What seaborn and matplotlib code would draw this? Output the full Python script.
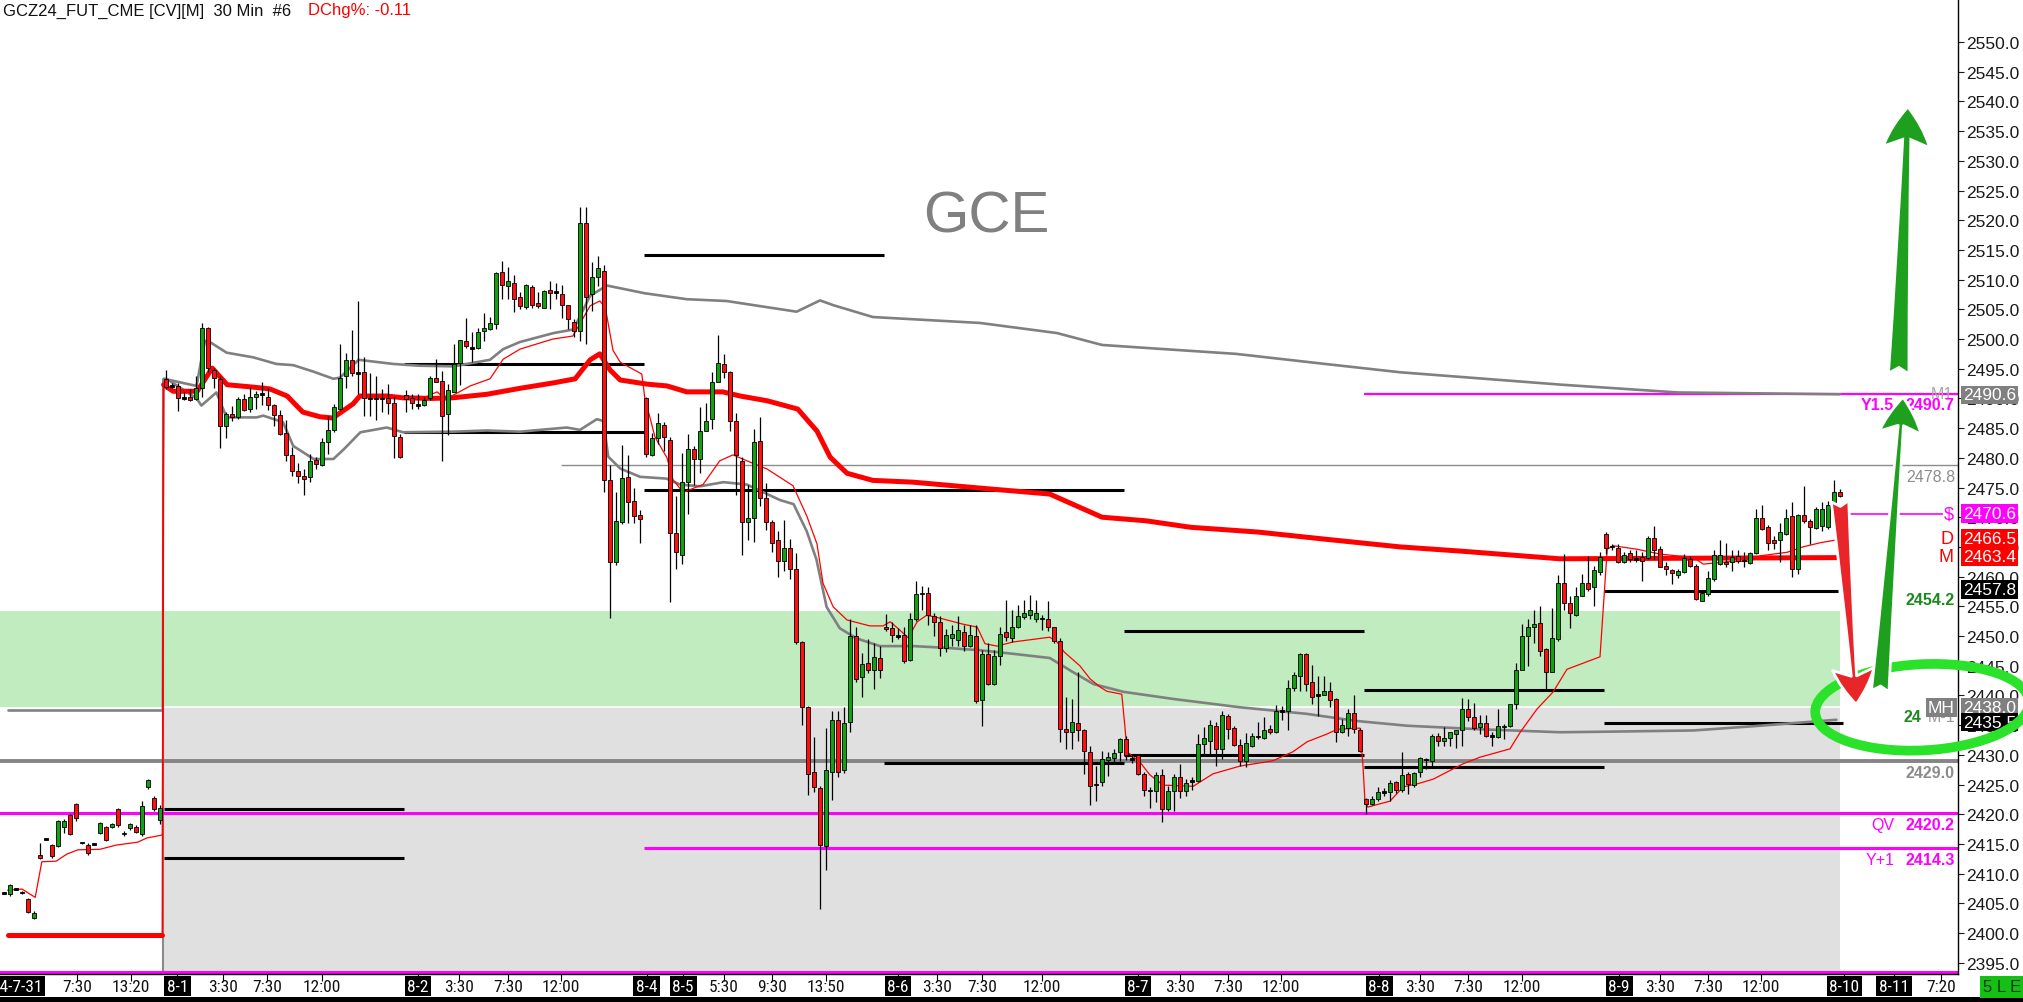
import numpy as np
import pandas as pd
import matplotlib
matplotlib.use("Agg")
import matplotlib.pyplot as plt
import seaborn as sns
from matplotlib import font_manager
from matplotlib.patches import Ellipse, Rectangle, ArrowStyle
from matplotlib.ticker import FormatStrFormatter
from matplotlib.transforms import blended_transform_factory

sns.set_style('white')
plt.rcParams['font.family'] = ['Liberation Sans', 'DejaVu Sans']

# ---- 30 min candles per session: (open, high, low, close) ----
jul31 = [(2406.7, 2406.9, 2406.5, 2406.7), (2406.5, 2408.3, 2406.3, 2408.1), (2407.4, 2407.6, 2407.2, 2407.4),
         (2406.8, 2407.0, 2406.6, 2406.8), (2405.7, 2405.9, 2403.3, 2403.5), (2402.6, 2403.7, 2402.4, 2403.3),
         (2413.1, 2415.2, 2412.4, 2412.6), (2415.8, 2416.0, 2415.6, 2415.8), (2414.8, 2415.0, 2412.7, 2412.9),
         (2414.6, 2419.0, 2414.4, 2418.8), (2417.8, 2419.2, 2416.9, 2418.8), (2419.8, 2420.0, 2416.5, 2416.7),
         (2421.7, 2421.9, 2418.9, 2419.3), (2415.2, 2415.4, 2415.0, 2415.2), (2414.9, 2415.1, 2413.2, 2413.4),
         (2415.0, 2415.2, 2414.8, 2415.0), (2416.8, 2418.7, 2416.6, 2418.5), (2417.8, 2418.0, 2415.5, 2415.7),
         (2417.9, 2418.6, 2417.7, 2418.4), (2420.9, 2421.1, 2417.9, 2418.1), (2416.6, 2417.1, 2416.4, 2416.9),
         (2417.6, 2418.6, 2417.4, 2418.4), (2417.9, 2418.1, 2416.8, 2417.0), (2416.6, 2422.3, 2416.4, 2421.4),
         (2424.5, 2426.0, 2424.3, 2425.8), (2422.8, 2423.0, 2420.6, 2420.8), (2419.0, 2421.6, 2418.3, 2421.0)]
aug01 = [(2493.2, 2494.8, 2491.5, 2492.0), (2492.1, 2492.6, 2491.7, 2492.1), (2492.1, 2492.6, 2487.9, 2490.0),
         (2490.1, 2491.0, 2489.8, 2490.1), (2490.3, 2491.6, 2489.6, 2489.7), (2489.9, 2493.8, 2489.8, 2491.8),
         (2491.7, 2502.7, 2490.3, 2501.8), (2501.8, 2502.1, 2494.4, 2495.1), (2494.8, 2495.2, 2491.8, 2493.4),
         (2493.3, 2493.8, 2481.6, 2485.3), (2485.3, 2487.7, 2483.4, 2487.4), (2487.4, 2488.8, 2486.2, 2486.8),
         (2486.8, 2490.3, 2486.5, 2489.9), (2489.9, 2490.7, 2487.9, 2488.1), (2488.2, 2491.9, 2487.7, 2490.2),
         (2490.2, 2491.3, 2488.2, 2490.7), (2490.7, 2492.7, 2488.9, 2490.7), (2490.3, 2491.7, 2488.1, 2488.9),
         (2488.9, 2489.0, 2485.4, 2487.2), (2487.2, 2488.1, 2483.8, 2484.0), (2484.2, 2486.4, 2479.4, 2480.4),
         (2480.5, 2481.8, 2477.0, 2477.8), (2477.7, 2479.2, 2475.7, 2476.9), (2476.9, 2478.2, 2473.8, 2476.5),
         (2476.7, 2480.6, 2475.9, 2479.5), (2479.6, 2480.2, 2478.1, 2478.9), (2478.8, 2483.3, 2478.7, 2482.6),
         (2482.6, 2487.1, 2480.6, 2484.7), (2484.7, 2489.1, 2484.4, 2488.5), (2488.3, 2499.1, 2488.1, 2493.4),
         (2493.7, 2497.6, 2491.8, 2496.5), (2496.4, 2501.6, 2493.8, 2494.3), (2494.3, 2506.4, 2490.7, 2494.3),
         (2494.4, 2496.9, 2487.1, 2490.0), (2490.0, 2494.3, 2487.1, 2490.0), (2490.0, 2493.7, 2486.3, 2490.0),
         (2490.0, 2491.6, 2487.7, 2490.0), (2490.0, 2492.4, 2487.4, 2489.3), (2489.3, 2490.3, 2480.0, 2483.6),
         (2483.5, 2484.0, 2480.0, 2480.1)]
aug02 = [(2490.5, 2491.4, 2487.7, 2489.9), (2490.0, 2490.7, 2488.2, 2489.3), (2488.9, 2490.7, 2488.2, 2488.9),
         (2488.9, 2490.3, 2488.7, 2489.8), (2490.0, 2493.8, 2489.7, 2493.4), (2493.4, 2496.6, 2492.7, 2492.8),
         (2493.0, 2494.6, 2479.4, 2487.0), (2487.3, 2492.5, 2483.8, 2491.4), (2491.1, 2499.1, 2491.0, 2495.8),
         (2496.0, 2499.9, 2492.3, 2499.8), (2499.6, 2503.5, 2498.5, 2498.8), (2498.5, 2501.1, 2496.1, 2498.5),
         (2498.5, 2501.8, 2498.3, 2501.2), (2501.3, 2504.4, 2499.7, 2501.8), (2501.7, 2503.7, 2501.6, 2502.7),
         (2502.5, 2511.3, 2501.7, 2511.1), (2511.2, 2513.1, 2506.7, 2509.1), (2509.0, 2512.1, 2506.7, 2509.7),
         (2509.5, 2510.8, 2504.5, 2506.8), (2507.1, 2507.9, 2505.0, 2505.5), (2505.4, 2509.3, 2505.0, 2509.1),
         (2508.8, 2509.1, 2505.3, 2505.8), (2506.1, 2507.9, 2505.3, 2505.5), (2505.3, 2508.2, 2505.2, 2508.1),
         (2508.2, 2509.8, 2505.0, 2507.7), (2507.9, 2509.4, 2506.7, 2507.9), (2507.6, 2509.1, 2503.5, 2505.7),
         (2505.7, 2505.8, 2501.7, 2503.3), (2502.9, 2503.3, 2500.3, 2501.3), (2501.3, 2522.3, 2499.7, 2519.5),
         (2519.6, 2522.3, 2499.2, 2507.1), (2507.5, 2513.0, 2504.7, 2510.5), (2510.5, 2514.0, 2509.0, 2512.0),
         (2511.5, 2512.5, 2474.2, 2476.2), (2476.2, 2478.8, 2453.1, 2462.4), (2462.4, 2474.2, 2461.9, 2469.4),
         (2469.2, 2482.2, 2468.9, 2476.6), (2476.8, 2480.5, 2469.0, 2472.5), (2472.7, 2474.9, 2469.0, 2470.2),
         (2470.3, 2471.2, 2465.6, 2469.7)]
aug05 = [(2490.1, 2490.3, 2480.2, 2480.6), (2480.5, 2484.2, 2480.3, 2483.4), (2483.4, 2487.5, 2482.3, 2485.8),
         (2485.6, 2486.0, 2481.2, 2483.5), (2483.0, 2483.5, 2455.7, 2467.4), (2467.4, 2473.5, 2461.2, 2464.2),
         (2463.6, 2480.8, 2462.2, 2476.0), (2476.0, 2484.0, 2470.5, 2481.4), (2481.5, 2482.0, 2475.5, 2479.8),
         (2479.8, 2488.5, 2477.5, 2484.5), (2484.5, 2489.3, 2484.5, 2486.2), (2486.5, 2494.4, 2484.8, 2492.7),
         (2492.8, 2500.6, 2492.7, 2496.0), (2495.8, 2497.4, 2493.5, 2494.4), (2494.4, 2494.6, 2484.5, 2486.2),
         (2486.2, 2487.5, 2473.7, 2480.5), (2479.5, 2480.2, 2463.7, 2469.2), (2469.2, 2475.5, 2466.2, 2469.9),
         (2469.9, 2484.8, 2465.9, 2482.7), (2482.8, 2486.8, 2471.9, 2473.2), (2473.2, 2475.7, 2467.9, 2469.2),
         (2469.2, 2469.5, 2464.2, 2465.7), (2466.1, 2467.7, 2459.9, 2462.6), (2462.6, 2469.5, 2460.9, 2464.8),
         (2464.8, 2466.4, 2459.6, 2461.2), (2461.2, 2463.9, 2448.6, 2449.0), (2449.0, 2449.2, 2435.0, 2438.0),
         (2438.0, 2438.3, 2423.2, 2426.7), (2427.1, 2433.0, 2423.7, 2424.5), (2424.4, 2424.7, 2404.1, 2414.8),
         (2414.6, 2434.5, 2410.6, 2427.4), (2427.1, 2437.3, 2422.4, 2435.8), (2435.8, 2437.3, 2426.3, 2427.1),
         (2427.4, 2438.0, 2426.9, 2435.3), (2435.5, 2452.8, 2433.8, 2450.0), (2450.0, 2451.6, 2442.3, 2442.7),
         (2443.1, 2447.1, 2439.7, 2445.3), (2445.5, 2449.5, 2443.8, 2444.2), (2444.2, 2448.8, 2441.1, 2446.4),
         (2446.3, 2448.3, 2443.0, 2444.2)]
aug06 = [(2451.6, 2453.7, 2450.9, 2451.2), (2451.4, 2452.3, 2449.0, 2450.1), (2450.0, 2451.3, 2449.5, 2450.0),
         (2450.2, 2451.6, 2445.5, 2445.8), (2446.0, 2453.9, 2445.8, 2452.8), (2452.8, 2459.3, 2452.6, 2457.1),
         (2457.1, 2458.5, 2454.3, 2457.3), (2457.3, 2458.3, 2451.9, 2453.5), (2453.3, 2453.9, 2450.0, 2452.4),
         (2452.4, 2453.3, 2446.6, 2448.0), (2448.0, 2451.1, 2447.3, 2450.2), (2449.6, 2451.8, 2448.3, 2450.4),
         (2449.3, 2453.3, 2448.3, 2451.0), (2450.6, 2451.8, 2447.5, 2448.4), (2448.4, 2451.9, 2448.2, 2450.2),
         (2450.0, 2451.8, 2438.7, 2439.0), (2439.3, 2447.6, 2434.9, 2447.0), (2447.0, 2448.8, 2441.8, 2442.0),
         (2442.0, 2447.6, 2441.8, 2446.6), (2446.6, 2451.5, 2445.1, 2450.4), (2450.6, 2456.1, 2449.1, 2449.8),
         (2449.6, 2454.4, 2449.0, 2451.5), (2451.5, 2455.3, 2451.3, 2453.3), (2453.2, 2456.1, 2452.9, 2453.9),
         (2453.6, 2456.9, 2452.9, 2454.3), (2452.9, 2456.1, 2452.3, 2453.9), (2452.9, 2453.6, 2451.0, 2452.9),
         (2452.9, 2455.9, 2450.9, 2451.6), (2451.5, 2451.6, 2448.9, 2449.2), (2449.2, 2449.6, 2432.1, 2434.3),
         (2434.3, 2439.7, 2430.9, 2433.8), (2433.9, 2439.4, 2430.9, 2435.6), (2435.4, 2443.9, 2432.4, 2434.1),
         (2434.2, 2434.3, 2426.8, 2430.6), (2430.4, 2431.4, 2421.6, 2424.7), (2425.0, 2428.2, 2422.3, 2425.0),
         (2425.4, 2430.6, 2424.7, 2429.3), (2429.2, 2430.4, 2426.4, 2429.7), (2429.5, 2431.0, 2428.7, 2430.3),
         (2430.4, 2432.9, 2429.0, 2432.7)]
aug07 = [(2432.6, 2433.1, 2429.2, 2429.9), (2429.3, 2430.1, 2428.7, 2429.3), (2429.9, 2430.0, 2426.6, 2426.7),
         (2426.7, 2427.1, 2423.1, 2424.0), (2424.0, 2424.5, 2421.0, 2424.0), (2423.9, 2427.1, 2422.0, 2426.6),
         (2426.6, 2427.6, 2418.7, 2420.8), (2420.8, 2424.8, 2420.6, 2423.9), (2423.9, 2426.8, 2420.6, 2426.2),
         (2426.2, 2428.5, 2422.8, 2423.9), (2423.9, 2426.0, 2423.1, 2425.3), (2425.6, 2426.3, 2424.1, 2425.6),
         (2425.6, 2433.5, 2425.4, 2431.8), (2431.8, 2434.7, 2430.1, 2432.8), (2432.4, 2435.8, 2430.1, 2435.0),
         (2434.8, 2435.6, 2428.2, 2431.0), (2431.0, 2437.3, 2429.3, 2436.7), (2436.6, 2436.9, 2432.7, 2434.3),
         (2434.5, 2434.8, 2431.4, 2431.7), (2431.7, 2432.7, 2428.2, 2429.0), (2429.0, 2433.6, 2427.9, 2432.0),
         (2431.5, 2433.6, 2431.3, 2433.1), (2433.1, 2435.6, 2432.7, 2433.1), (2432.8, 2436.4, 2432.7, 2434.2),
         (2434.3, 2435.0, 2433.5, 2433.9), (2433.8, 2438.4, 2433.7, 2437.3), (2437.4, 2438.3, 2435.8, 2437.4),
         (2437.4, 2442.6, 2434.1, 2441.2), (2441.2, 2444.0, 2440.8, 2443.4), (2443.3, 2447.1, 2440.8, 2447.0),
         (2447.0, 2447.1, 2440.8, 2441.9), (2442.2, 2445.1, 2438.6, 2439.8), (2440.1, 2443.3, 2436.6, 2440.1),
         (2440.1, 2443.3, 2440.0, 2440.8), (2440.8, 2442.2, 2438.0, 2439.3), (2439.4, 2439.5, 2432.1, 2433.9),
         (2433.9, 2436.0, 2433.7, 2435.1), (2434.5, 2437.7, 2433.2, 2437.0), (2437.0, 2440.0, 2433.7, 2434.3),
         (2434.2, 2434.5, 2430.4, 2430.7)]
aug08 = [(2422.6, 2422.8, 2420.0, 2421.7), (2421.7, 2423.1, 2421.6, 2422.6), (2422.5, 2424.5, 2422.3, 2423.8),
         (2423.7, 2424.4, 2423.0, 2423.7), (2423.7, 2425.8, 2422.3, 2425.3), (2425.4, 2425.6, 2423.6, 2424.0),
         (2424.0, 2430.4, 2423.8, 2426.6), (2426.8, 2427.1, 2423.4, 2425.1), (2425.0, 2427.1, 2424.5, 2426.9),
         (2427.1, 2429.6, 2426.2, 2429.4), (2429.2, 2429.4, 2427.6, 2429.2), (2429.0, 2433.5, 2427.7, 2433.2),
         (2433.1, 2433.6, 2431.5, 2432.4), (2432.3, 2434.6, 2431.4, 2432.9), (2432.9, 2433.9, 2431.4, 2433.8),
         (2433.5, 2434.2, 2431.1, 2434.1), (2434.1, 2439.5, 2431.5, 2437.7), (2437.7, 2439.4, 2435.7, 2436.3),
         (2436.3, 2438.8, 2434.1, 2434.5), (2434.6, 2436.7, 2433.5, 2435.4), (2435.4, 2436.7, 2433.0, 2433.1),
         (2433.2, 2433.8, 2431.5, 2433.2), (2433.0, 2437.7, 2432.8, 2434.8), (2434.6, 2435.2, 2432.7, 2434.9),
         (2434.8, 2438.6, 2434.6, 2438.6), (2438.6, 2445.5, 2437.7, 2444.3), (2444.3, 2452.0, 2444.2, 2450.0),
         (2450.0, 2452.9, 2445.0, 2451.5), (2451.5, 2454.3, 2448.9, 2452.0), (2452.2, 2455.1, 2446.6, 2447.5),
         (2447.8, 2447.9, 2441.1, 2444.0), (2444.0, 2454.7, 2443.9, 2449.6), (2449.5, 2460.3, 2449.2, 2459.0),
         (2459.0, 2463.8, 2454.4, 2455.5), (2455.5, 2456.8, 2451.3, 2453.9), (2453.5, 2458.2, 2453.4, 2456.7),
         (2456.8, 2460.4, 2456.7, 2459.0), (2459.0, 2463.4, 2457.5, 2457.9), (2458.2, 2461.8, 2455.1, 2461.1),
         (2460.8, 2464.1, 2460.3, 2463.3)]
aug09 = [(2467.2, 2467.5, 2463.8, 2464.9), (2465.1, 2465.5, 2464.4, 2465.1), (2464.9, 2465.5, 2462.3, 2462.5),
         (2462.5, 2464.1, 2462.3, 2463.6), (2463.9, 2464.4, 2462.5, 2463.0), (2463.0, 2464.4, 2462.5, 2463.0),
         (2463.3, 2464.1, 2459.3, 2462.7), (2463.1, 2466.9, 2462.9, 2466.5), (2466.5, 2468.5, 2463.0, 2464.4),
         (2464.7, 2465.2, 2461.6, 2461.7), (2461.8, 2462.4, 2460.2, 2461.2), (2461.1, 2461.3, 2458.8, 2460.6),
         (2460.2, 2461.2, 2459.7, 2461.0), (2460.7, 2463.8, 2460.6, 2463.1), (2463.0, 2463.4, 2461.7, 2461.8),
         (2461.8, 2462.1, 2456.1, 2456.3), (2455.9, 2457.5, 2455.9, 2457.2), (2457.0, 2461.0, 2456.8, 2459.7),
         (2459.6, 2464.4, 2459.3, 2463.6), (2462.1, 2466.1, 2461.9, 2463.6), (2462.5, 2465.7, 2461.6, 2462.1),
         (2462.4, 2464.4, 2461.0, 2463.3), (2463.4, 2464.4, 2462.3, 2462.7), (2462.7, 2464.2, 2461.7, 2462.7),
         (2462.3, 2464.1, 2462.1, 2464.0), (2464.0, 2471.3, 2463.8, 2469.8), (2469.8, 2472.1, 2467.9, 2468.0),
         (2468.3, 2468.7, 2464.5, 2465.7), (2466.2, 2466.9, 2464.7, 2465.6), (2466.2, 2469.1, 2462.5, 2467.5),
         (2467.2, 2471.4, 2467.0, 2469.9), (2470.2, 2472.6, 2459.9, 2461.3), (2461.2, 2470.5, 2460.4, 2470.4),
         (2470.3, 2475.2, 2469.1, 2469.4), (2469.3, 2469.7, 2465.5, 2468.3), (2468.1, 2471.7, 2468.0, 2471.3),
         (2468.5, 2472.6, 2467.7, 2471.3), (2468.3, 2472.8, 2468.0, 2472.0), (2472.1, 2476.3, 2470.9, 2474.2),
         (2474.2, 2474.8, 2473.4, 2473.6)]
sessions = [jul31, aug01, aug02, aug05, aug06, aug07, aug08, aug09]

# ---- indicator lines, (bar index, price) ----
week_vwap = [(0.6, 2399.6), (26.4, 2399.6), (26.6, 2492.3), (28.2, 2491.2), (32.2, 2491.2), (34.7, 2495.1),
             (37.2, 2492.3), (41.5, 2491.9), (44.3, 2491.6), (47.2, 2490.4), (49.8, 2487.7), (52.7, 2486.9),
             (54.8, 2486.7), (58.2, 2489.1), (59.3, 2490.4), (63.8, 2490.4), (66.5, 2490.1), (71.5, 2490.0),
             (74.8, 2490.1), (80.5, 2490.7), (86.0, 2491.7), (91.5, 2492.6), (95.2, 2493.3), (97.7, 2496.5),
             (99.3, 2497.5), (101.0, 2494.8), (102.7, 2493.1), (107.2, 2492.4), (110.5, 2492.1), (113.8, 2491.1),
             (119.8, 2491.1), (122.7, 2490.4), (127.2, 2489.6), (132.3, 2488.2), (135.5, 2484.5), (137.7, 2480.1),
             (140.5, 2477.4), (144.8, 2476.2), (151.5, 2475.9), (162.7, 2474.9), (174.3, 2473.9), (183.0, 2470.0),
             (190.3, 2469.4), (197.8, 2468.3), (209.0, 2467.5), (220.2, 2466.3), (232.7, 2465.0), (242.7, 2464.3),
             (259.3, 2463.0), (305.8, 2463.2)]
day_vwap = [(0.6, 2407.2), (3.0, 2407.4), (5.2, 2406.0), (6.3, 2412.0), (8.7, 2412.1), (10.5, 2413.3),
            (12.3, 2414.0), (16.0, 2414.1), (18.7, 2414.8), (22.3, 2415.3), (23.8, 2416.0), (26.4, 2416.5),
            (26.6, 2492.3), (28.2, 2491.2), (32.2, 2491.2), (34.7, 2495.1), (37.2, 2492.3), (41.5, 2491.9),
            (44.3, 2491.6), (47.2, 2490.4), (49.8, 2487.7), (52.7, 2486.9), (54.8, 2486.7), (58.2, 2489.1),
            (59.3, 2490.4), (63.8, 2490.4), (66.5, 2490.1), (67.5, 2490.3), (69.5, 2489.8), (71.0, 2490.6),
            (72.2, 2491.1), (73.5, 2489.9), (74.8, 2490.5), (77.7, 2492.1), (81.0, 2493.3), (83.2, 2496.6),
            (86.0, 2498.3), (91.5, 2500.0), (94.8, 2500.5), (97.7, 2505.6), (99.3, 2506.4), (100.2, 2505.4),
            (101.5, 2498.1), (102.7, 2496.1), (106.3, 2494.1), (106.8, 2490.1), (108.5, 2483.5), (110.5, 2480.0),
            (111.5, 2476.3), (113.2, 2474.2), (116.5, 2475.5), (119.3, 2479.5), (121.5, 2480.5), (123.8, 2479.5),
            (127.2, 2478.1), (131.5, 2475.3), (133.8, 2470.2), (135.5, 2465.5), (136.5, 2458.9), (138.2, 2454.9),
            (140.5, 2452.7), (144.3, 2451.7), (146.5, 2451.7), (147.7, 2452.4), (149.3, 2451.0), (150.7, 2449.7),
            (152.2, 2452.4), (153.8, 2453.5), (156.0, 2453.0), (159.8, 2452.0), (162.2, 2451.5), (163.5, 2448.7),
            (165.5, 2448.3), (168.2, 2449.0), (174.3, 2449.8), (175.5, 2449.0), (176.7, 2447.3), (179.3, 2445.0),
            (181.0, 2442.8), (182.7, 2441.4), (183.8, 2440.7), (186.3, 2440.2), (186.8, 2434.9), (187.2, 2430.5),
            (189.3, 2428.8), (191.0, 2426.6), (193.2, 2424.9), (198.2, 2424.7), (201.5, 2426.8), (206.0, 2428.1),
            (211.5, 2429.0), (214.8, 2430.5), (217.2, 2432.2), (220.5, 2433.5), (222.2, 2434.3), (226.0, 2434.5),
            (226.5, 2428.1), (226.8, 2422.6), (227.3, 2421.2), (231.0, 2422.2), (233.2, 2424.6), (235.5, 2425.1),
            (238.2, 2425.9), (240.5, 2427.1), (243.2, 2428.5), (246.0, 2429.6), (251.0, 2431.0), (252.7, 2433.8),
            (255.5, 2437.7), (258.2, 2440.6), (260.5, 2444.4), (266.0, 2446.5), (266.5, 2454.0), (267.2, 2464.6),
            (268.2, 2465.2), (272.2, 2464.6), (276.0, 2463.8), (278.8, 2463.5), (281.5, 2463.3), (283.2, 2462.1),
            (287.2, 2462.5), (291.0, 2462.6), (292.7, 2463.5), (297.2, 2464.1), (299.8, 2465.0), (302.7, 2465.7),
            (305.5, 2466.2)]
upper_band = [(27.1, 2493.2), (32.1, 2492.1), (32.9, 2496.6), (33.5, 2499.7), (34.3, 2499.5), (37.1, 2497.7),
              (41.6, 2496.9), (45.4, 2495.8), (48.2, 2495.6), (51.6, 2494.5), (54.9, 2493.3), (56.0, 2493.5),
              (59.1, 2496.5), (64.9, 2495.8), (69.3, 2495.5), (74.9, 2495.4), (81.0, 2496.5), (83.2, 2498.3),
              (86.0, 2499.5), (91.6, 2501.0), (94.9, 2501.6), (97.7, 2507.3), (100.5, 2509.0), (106.8, 2507.7),
              (113.8, 2506.7), (120.4, 2506.4), (132.1, 2504.6), (136.0, 2506.5), (138.2, 2505.7), (144.8, 2503.7),
              (162.7, 2502.7), (175.5, 2501.0), (183.0, 2499.0), (190.3, 2498.5), (205.3, 2497.5), (220.2, 2495.8),
              (232.7, 2494.4), (259.7, 2492.3), (279.0, 2491.0), (306.0, 2490.7)]
mid_band = [(0.6, 2437.6), (26.4, 2437.6), (26.6, 2493.3), (27.1, 2493.3), (32.1, 2490.0), (32.9, 2488.8),
            (35.4, 2491.0), (37.1, 2486.8), (42.1, 2486.8), (43.2, 2487.1), (46.5, 2486.0), (48.2, 2482.0),
            (51.6, 2479.8), (54.9, 2479.8), (56.7, 2481.5), (59.4, 2484.3), (63.8, 2485.1), (66.5, 2484.3),
            (74.9, 2484.4), (80.5, 2484.6), (86.0, 2484.4), (93.8, 2485.1), (96.0, 2484.7), (98.8, 2486.5),
            (99.9, 2486.2), (100.7, 2480.2), (102.7, 2478.2), (106.0, 2476.8), (110.4, 2476.5), (112.7, 2475.5),
            (116.0, 2475.2), (119.9, 2475.9), (123.8, 2475.5), (129.3, 2472.9), (131.6, 2472.2), (133.8, 2467.6),
            (135.4, 2462.9), (137.1, 2454.9), (139.3, 2451.3), (142.1, 2449.6), (146.0, 2448.3), (151.6, 2448.3),
            (157.1, 2448.0), (162.7, 2447.6), (168.2, 2447.0), (174.3, 2446.3), (178.2, 2443.9), (181.6, 2441.9),
            (186.6, 2440.6), (194.9, 2439.4), (206.0, 2438.0), (217.1, 2436.9), (225.4, 2435.7), (233.8, 2434.9),
            (246.0, 2434.3), (259.3, 2433.8), (267.7, 2433.9), (281.6, 2434.1), (292.7, 2434.9), (305.4, 2435.9)]

# previous-session high / low: (first bar, last bar, price)
prev_levels = [(26.7, 66.7, 2420.9), (26.7, 66.7, 2412.6), (66.7, 106.7, 2495.8), (66.7, 106.7, 2484.4),
               (106.7, 146.7, 2514.2), (106.7, 186.7, 2474.6), (146.7, 186.7, 2428.7), (186.7, 226.7, 2450.8),
               (186.7, 226.7, 2429.9), (226.7, 266.7, 2440.9), (226.7, 266.7, 2428.0), (266.7, 305.7, 2457.6),
               (266.7, 306.5, 2435.4)]
mag_names = ['QV', 'Y+1', 'Y1.5', 'floor']
mag_prices = [2420.2, 2414.3, 2490.7, 2393.5]
mag_starts = [-1.0, 106.7, 226.7, -1.0]
last_price, last_span = 2470.5, (307.3, 323.2)
mh_price, m1_price = 2429.0, 2478.8
m1_start = 92.8
value_area = (2438.0, 2454.2)
session_start, chart_end = 26.5, 306.0

flag_values = [2490.6, 2470.6, 2466.5, 2463.4, 2457.8, 2438.0, 2435.5]
flag_colors = ['#808080', '#ff00ff', '#ff0000', '#ff0000', '#000000', '#808080', '#000000']

date_labels = ['8-1', '8-2', '8-4', '8-5', '8-6', '8-7', '8-8', '8-9', '8-10', '8-11']
date_pos = [28.9, 69.0, 107.1, 113.2, 149.0, 189.0, 229.2, 269.2, 306.7, 315.0]
time_labels = ['7:30', '13:20', '3:30', '7:30', '12:00', '3:30', '7:30', '12:00', '5:30', '9:30', '13:50',
               '3:30', '7:30', '12:00', '3:30', '7:30', '12:00', '3:30', '7:30', '12:00', '3:30', '7:30',
               '12:00', '7:20']
time_pos = [12.2, 21.2, 36.5, 43.8, 53.0, 75.8, 84.0, 92.8, 120.0, 128.0, 137.0, 155.5, 163.0, 173.0,
            196.0, 204.0, 212.8, 236.0, 244.0, 253.0, 276.0, 284.0, 292.8, 322.8]

# ---------------------------------------------------------------
W, H = 2024, 1003
fig = plt.figure(figsize=(W / 100, H / 100), dpi=100)
ax = fig.add_axes([0, 28 / H, 1958 / W, 975 / H])
ax.set_facecolor('white')
y_lo, y_hi = 2393.1, 2557.24

names = {f.name for f in font_manager.fontManager.ttflist}
narrow = next((n for n in ['Liberation Sans Narrow', 'Roboto Condensed', 'DejaVu Sans Condensed'] if n in names),
              'Liberation Sans')

# zones
ax.fill_between([-1, chart_end], value_area[0], value_area[1], color='#c0ecc0', lw=0, zorder=0)
ax.fill_between([session_start, chart_end], y_lo, value_area[0], color='#e0e0e0', lw=0, zorder=0)
ax.hlines(value_area[0], session_start, chart_end, color='white', lw=1.2, zorder=0.5)
ax.vlines(session_start, y_lo, 2493.3, color='#8a8a8a', lw=1.5, zorder=1)

# horizontal reference levels
ax.hlines(mh_price, -1, 326, color='#858585', lw=2.8, zorder=1.5)
ax.hlines(m1_price, m1_start, 326, color='#8c8c8c', lw=1.0, zorder=1.5)
for name, p, s in zip(mag_names, mag_prices, mag_starts):
    ax.hlines(p, s, 326, color='#ff00ff', lw=1.6 if name == 'Y1.5' else 2.2, zorder=1.6)
ax.hlines(last_price, *last_span, color='#ff00ff', lw=1.2, zorder=1.6)
for s, e, p in prev_levels:
    ax.hlines(p, s, e, color='black', lw=2.2, zorder=2)

# indicator lines with seaborn; the roll-over jump between sessions is drawn thin
def draw_line(pairs, color, lw, z):
    df = pd.DataFrame(pairs, columns=['bar', 'price'])
    jump = (df.bar.diff() < 0.3) & (df.price.diff().abs() > 20)
    cuts = [0] + list(df.index[jump]) + [len(df)]
    for a, b in zip(cuts[:-1], cuts[1:]):
        part = df.iloc[a:b]
        sns.lineplot(data=part, x='bar', y='price', sort=False, estimator=None,
                     color=color, linewidth=lw, ax=ax, zorder=z)
    for k in df.index[jump]:
        sns.lineplot(data=df.iloc[k - 1:k + 1], x='bar', y='price', sort=False, estimator=None,
                     color=color, linewidth=min(lw, 1.2), ax=ax, zorder=z)

draw_line(upper_band, '#808080', 1.9, 3)
draw_line(mid_band, '#808080', 1.9, 3)
draw_line(day_vwap, '#ff0000', 0.9, 3.5)
draw_line(week_vwap, '#ff0000', 3.6, 4)

# candles
bars = pd.DataFrame([c for s in sessions for c in s], columns=['open', 'high', 'low', 'close'])
bars['bar'] = np.arange(len(bars))
body = bars.close - bars.open
flat = body.abs() < 0.05
colors = np.where(flat, 'black', np.where(body > 0, '#14a014', '#ff1010'))
heights = np.where(flat, 0.25, body)
ax.vlines(bars.bar, bars.low, bars.high, color='black', lw=0.9, zorder=6)
ax.bar(bars.bar, heights, bottom=np.where(flat, bars.open - 0.12, bars.open), width=0.75,
       color=colors, edgecolor='black', linewidth=0.6, zorder=7)

# axes look
ax.set_xlim(-0.667, 325.667)
ax.set_ylim(y_lo, y_hi)
ax.set_xlabel('')
ax.set_ylabel('')
for side in ['left', 'top']:
    ax.spines[side].set_visible(False)
for side in ['bottom', 'right']:
    ax.spines[side].set_color('black')
    ax.spines[side].set_linewidth(1.0)
ax.yaxis.tick_right()
ax.set_yticks(np.arange(2395, 2551, 5))
ax.yaxis.set_major_formatter(FormatStrFormatter('%.1f'))
ax.tick_params(axis='y', right=True, left=False, direction='out', length=4, width=0.8,
               pad=1.5, labelsize=12.5, colors='#1a1a1a')
ax.set_xticks(date_pos + time_pos)
ax.set_xticklabels([])
ax.tick_params(axis='x', bottom=True, direction='out', length=5, width=0.8, color='black')

# bottom labels
xt = ax.get_xaxis_transform()
for lab, x in zip(date_labels, date_pos):
    ax.text(x, -0.0125, lab, transform=xt, ha='center', va='center', fontsize=12.5, family=narrow,
            color='white', bbox=dict(boxstyle='square,pad=0.15', fc='black', ec='none'), clip_on=False)
ax.text(6.4, -0.0125, '24-7-31', transform=xt, ha='right', va='center', fontsize=12.5, family=narrow,
        color='white', bbox=dict(boxstyle='square,pad=0.15', fc='black', ec='none'), clip_on=False)
for lab, x in zip(time_labels, time_pos):
    ax.text(x, -0.0125, lab, transform=xt, ha='center', va='center', fontsize=12.5, family=narrow,
            color='#111111', clip_on=False)

# right-hand price flags
ft = blended_transform_factory(fig.transFigure, ax.transData)
for v, c in zip(flag_values, flag_colors):
    ax.text(1963 / W, v, f'{v:.1f}', transform=ft, ha='left', va='center', fontsize=12.5, color='white',
            bbox=dict(boxstyle='square,pad=0.1', fc=c, ec='none'), clip_on=False, zorder=10)
ax.text(1955 / W, flag_values[5], 'MH', transform=ft, ha='right', va='center', fontsize=12.5, color='white',
        bbox=dict(boxstyle='square,pad=0.1', fc='#808080', ec='none'), clip_on=False, zorder=10)

magenta = '#ff00ff'
notes = [('M1', m1_price + 12.1, '#a8a8a8', 'normal', 1953),
         ('2490.7', mag_prices[2] - 1.7, magenta, 'bold', 1955), ('Y1.5', mag_prices[2] - 1.7, magenta, 'bold', 1894),
         (f'{m1_price:.1f}', m1_price - 1.9, '#8c8c8c', 'normal', 1955),
         ('$', flag_values[1], magenta, 'normal', 1954),
         ('D', flag_values[2], '#ff0000', 'normal', 1954),
         ('M', flag_values[3], '#ff0000', 'normal', 1954),
         (f'{value_area[1]:.1f}', value_area[1] + 2.0, '#1a8a1a', 'bold', 1955),
         ('M-1', 2436.4, '#9a9a9a', 'normal', 1955), ('24', 2436.4, '#1a8a1a', 'bold', 1921),
         (f'{mh_price:.1f}', mh_price - 1.9, '#8c8c8c', 'bold', 1955),
         (f'{mag_prices[0]:.1f}', mag_prices[0] - 1.9, magenta, 'bold', 1955),
         ('QV', mag_prices[0] - 1.9, magenta, 'normal', 1894),
         (f'{mag_prices[1]:.1f}', mag_prices[1] - 1.9, magenta, 'bold', 1955),
         ('Y+1', mag_prices[1] - 1.9, magenta, 'normal', 1894)]
for txt, y, c, w, xr in notes:
    size = 13 if txt in ('$', 'D', 'M') else 11.5
    ax.text(xr / W, y, txt, transform=ft, ha='right', va='center', fontsize=size, color=c,
            fontweight=w, clip_on=False, zorder=9)

# title and watermark
fig.text(3 / W, 1 - 11 / H, 'GCZ24_FUT_CME [CV][M]  30 Min  #6', ha='left', va='center',
         fontsize=12, color='#111111')
fig.text(308 / W, 1 - 11 / H, 'DChg%: -0.11', ha='left', va='center', fontsize=12, color='#ff0000')
ax.text(163.8, 2520.7, 'GCE', ha='center', va='center', fontsize=42, color='#808080', zorder=2)

# hand drawn annotations
ax.add_patch(Ellipse((319.7, 2438.0), 35.7, 14.5, angle=3, fill=False, ec='#2ae22a', lw=7,
                     clip_on=False, zorder=11))

def arrow(tail, tip, color, outline):
    ax.annotate('', xy=tip, xytext=tail, xycoords='data', textcoords='data', annotation_clip=False,
                zorder=12,
                arrowprops=dict(arrowstyle=ArrowStyle('Fancy', head_length=0.85, head_width=1.0, tail_width=0.42),
                                fc=color, ec=outline, lw=2.0 if outline != 'none' else 0,
                                mutation_scale=30, shrinkA=0, shrinkB=0))

arrow((306.0, 2472.7), (308.7, 2438.5), '#e8262a', 'white')
arrow((312.7, 2440.7), (316.5, 2490.2), '#1ea01e', 'white')
arrow((315.8, 2494.6), (317.3, 2538.7), '#1ea01e', 'none')

# frame pieces outside the axes
fig.add_artist(Rectangle((0, 0), 1, 5 / H, transform=fig.transFigure, fc='black', ec='none'))
fig.text(2002 / W, 1 - 988 / H, '5 L E', ha='center', va='center', fontsize=12, color='#0b3a0b',
         bbox=dict(boxstyle='square,pad=0.2', fc='#14c014', ec='none'))

fig.savefig('out.png', dpi=100, facecolor='white')
